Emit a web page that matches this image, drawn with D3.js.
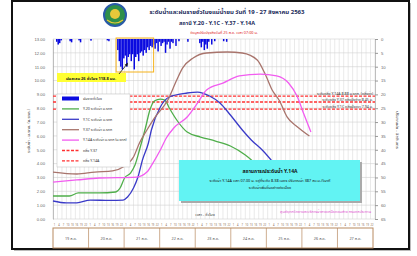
<!DOCTYPE html>
<html>
<head>
<meta charset="utf-8">
<script src="https://cdn.jsdelivr.net/npm/d3@7"></script>
<style>
  body { margin: 0; background: #fff; }
  svg { font-family: Tahoma, "Noto Sans Thai", "Noto Sans", sans-serif; }
</style>
</head>
<body>
<script>
// chart size
var width = 417;
var height = 256;

// data: [hour from 19 Aug 00:00, level m]
var y20 = [[0,1.66],[11,1.66],[17,1.88],[31,1.88],[42,1.95],[45,2.24],[48,2.96],[52,3.32],[55,3.9],[58,4.98],[62,6.57],[65,7.87],[68,8.52],[72,8.66],[75,8.59],[78,8.02],[83,7.15],[90,6.28],[99,5.92],[109,5.63],[119,5.27],[129,4.62],[139,3.68]];
var y1c = [[0,1.3],[9,1.16],[16,1.16],[25,1.37],[38,1.34],[47,1.37],[50,1.59],[54,2.24],[57,3.03],[60,4.26],[64,5.49],[66,6.43],[72,8.09],[78,8.81],[90,9.1],[97,9.17],[105,8.88],[112,8.38],[119,7.51],[127,6.43],[133,5.71],[141,4.91],[148,4.04]];
var y37 = [[0,3.39],[16,3.25],[28,3.39],[40,3.47],[47,3.76],[54,4.48],[58,5.49],[63,6.43],[68,7.29],[77,8.59],[83,10.04],[87,10.91],[94,11.63],[103,11.99],[117,12.06],[127,11.99],[137,11.48],[142,10.54],[147,9.32],[152,8.52],[157,7.37],[164,6.64],[172,5.99]];
var y14a = [[0,2.67],[16,2.82],[31,2.96],[56,3.03],[63,3.39],[67,4.04],[72,4.98],[76,5.85],[81,6.57],[90,7.37],[97,8.38],[103,9.32],[114,9.82],[125,10.33],[139,10.47],[150,10.33],[158,9.82],[164,8.81],[168,7.66],[173,6.28]];

// hourly rain: [hour, mm]
var rain = [[2,1],[3,2],[4,1.5],[5,0.5],[11,0.8],[12,1.2],[17,0.5],[18,1.2],[25,0.6],[36,0.5],[37,0.8],
  [43,4],[44,8],[45,10],[46,11],[47,7],[48,6],[49,10],[50,6.5],[51,5.5],[52,8],[53,5.5],[54,11],[55,6.5],[56,5.5],
  [57,8],[58,5],[59,4.5],[60,6],[61,4],[62,5],[63,3],[64,4],[65,2.5],[66,3],[67,2],
  [68,3.5],[69,1.5],[70,4.5],[71,1],[72,2.5],[73,1.5],[74,1],[75,5],[76,2],[77,1],[78,3.5],[79,1],[80,1.5],[82,2.5],[84,0.8],
  [90,1],[98,1.5],[99,3],[100,1],[101,4],[102,2],[103,3.5],[104,1],[106,2],[108,0.8],[114,0.8],[116,1]];

var bankLevels = [8.88, 8.45, 7.94];
var bankLabels = ["ระดับตลิ่ง Y.14A 8.88 ม.รทก. (ตลิ่งต่ำ)", "ระดับตลิ่ง Y.37 ตลิ่งฝั่งซ้าย 8.45 ม.", "ระดับตลิ่ง Y.1C ตลิ่งฝั่งขวา 7.94 ม."];
var dayLabels = ["19 ส.ค.","20 ส.ค.","21 ส.ค.","22 ส.ค.","23 ส.ค.","24 ส.ค.","25 ส.ค.","26 ส.ค.","27 ส.ค."];
var hourTicks = [1,4,7,10,13,16,19,22];
var legendNames = ["ฝนรายชั่วโมง","Y.20 ระดับน้ำ ม.รทก","Y.1C ระดับน้ำ ม.รทก","Y.37 ระดับน้ำ ม.รทก","Y.14A ระดับน้ำ ม.รทก (ม.รทก)","ตลิ่ง Y.37","ตลิ่ง Y.14A"];

var svg = d3.select("body").append("svg")
    .attr("width", width)
    .attr("height", height);

// frame
svg.append("rect").attr("x", 14).attr("y", 3).attr("width", 397).attr("height", 248).attr("fill", "#bbb");
svg.append("rect").attr("x", 12).attr("y", 1).attr("width", 397).attr("height", 248)
  .attr("fill", "#fff").attr("stroke", "#111").attr("stroke-width", 2);

var x = d3.scaleLinear().domain([0, 216]).range([53, 375]);
var y = d3.scaleLinear().domain([0, 13]).range([219, 39]);
var yR = d3.scaleLinear().domain([0, 65]).range([39, 219]);

// grid
svg.append("g").selectAll("line").data(d3.range(0, 217, 3)).enter().append("line")
  .attr("x1", function(d) { return x(d); }).attr("x2", function(d) { return x(d); })
  .attr("y1", y(13)).attr("y2", y(0))
  .attr("stroke", "#dcdcdc").attr("stroke-width", 0.6);
svg.append("g").selectAll("line").data(d3.range(0, 14)).enter().append("line")
  .attr("x1", x(0)).attr("x2", x(216))
  .attr("y1", function(d) { return y(d); }).attr("y2", function(d) { return y(d); })
  .attr("stroke", "#d0d0d0").attr("stroke-width", 0.6);

// axes
var left = svg.append("g").attr("transform", "translate(" + x(0) + ",0)")
  .call(d3.axisLeft(y).ticks(13).tickFormat(d3.format(".2f")).tickSize(0).tickPadding(8));
var right = svg.append("g").attr("transform", "translate(" + x(216) + ",0)")
  .call(d3.axisRight(yR).ticks(13).tickSize(3).tickPadding(3));
[left, right].forEach(function(g) {
  g.select(".domain").attr("stroke", "#999").attr("stroke-width", 0.6);
  g.selectAll(".tick line").attr("stroke", "#999");
  g.selectAll("text").attr("fill", "#666").attr("font-size", 4.2);
});

// rain bars
var bw = x(1) - x(0);
svg.append("g").selectAll("rect").data(rain).enter().append("rect")
  .attr("x", function(d) { return x(d[0]); })
  .attr("y", yR(0))
  .attr("width", bw)
  .attr("height", function(d) { return yR(d[1]) - yR(0); })
  .attr("fill", "#0a0ae0");

// heavy rain box
svg.append("rect").attr("x", x(43) - 1).attr("y", 38).attr("width", x(67.5) - x(43) + 1).attr("height", 34)
  .attr("fill", "none").attr("stroke", "#f5b21a").attr("stroke-width", 1);

// bank lines
svg.append("g").selectAll("line").data(bankLevels).enter().append("line")
  .attr("x1", x(0)).attr("x2", x(216))
  .attr("y1", function(d) { return y(d); }).attr("y2", function(d) { return y(d); })
  .attr("stroke", "#ff3030").attr("stroke-width", 1.3).attr("stroke-dasharray", "3,1.5");
svg.append("g").selectAll("text").data(bankLevels).enter().append("text")
  .attr("x", 373).attr("y", function(d) { return y(d) - 1; })
  .attr("text-anchor", "end").attr("font-size", 3.6).attr("fill", "#333")
  .text(function(d, i) { return bankLabels[i]; });

// level lines
var line = d3.line().x(function(d) { return x(d[0]); }).y(function(d) { return y(d[1]); })
  .curve(d3.curveMonotoneX);
var series = [[y20, "#4fae4a"], [y1c, "#3a3ac8"], [y37, "#a8746c"], [y14a, "#f25cf0"]];
series.forEach(function(s) {
  svg.append("path").datum(s[0]).attr("d", line)
    .attr("fill", "none").attr("stroke", s[1]).attr("stroke-width", 1.3);
});

// callout
svg.append("rect").attr("x", 57).attr("y", 73).attr("width", 69).attr("height", 9).attr("fill", "#ffff33");
svg.append("text").attr("x", 91).attr("y", 79.5).attr("text-anchor", "middle")
  .attr("font-size", 4).attr("font-weight", "bold").attr("fill", "#222")
  .text("ฝนสะสม 26 ชั่วโมง 118.8 มม.");
svg.append("line").attr("x1", 119).attr("y1", 74).attr("x2", 127).attr("y2", 64)
  .attr("stroke", "#111").attr("stroke-width", 0.8);
svg.append("path").attr("d", "M128,62.5 L124.8,64.8 L127.2,66.6 Z").attr("fill", "#111");

// legend
var lg = svg.append("g");
lg.append("rect").attr("x", 57).attr("y", 94).attr("width", 73).attr("height", 73)
  .attr("fill", "#fff").attr("stroke", "#bbb").attr("stroke-width", 0.5);
legendNames.forEach(function(n, i) {
  var ly = 98.5 + i * 10.4;
  var item = lg.append("line").attr("x1", 62).attr("x2", 79).attr("y1", ly).attr("y2", ly);
  if (i == 0) item.attr("stroke", "#0a0ae0").attr("stroke-width", 4);
  else if (i < 5) item.attr("stroke", series[i - 1][1]).attr("stroke-width", 1.3);
  else item.attr("stroke", "#ff3030").attr("stroke-width", 1.3).attr("stroke-dasharray", "3,1.5");
  lg.append("text").attr("x", 83).attr("y", ly + 1.3).attr("font-size", 3.6).attr("fill", "#333").text(n);
});

// situation box
svg.append("rect").attr("x", 181).attr("y", 162).attr("width", 181).attr("height", 41).attr("fill", "#aaa");
svg.append("rect").attr("x", 179).attr("y", 160).attr("width", 181).attr("height", 41).attr("fill", "#62f3f3");
svg.append("text").attr("x", 270).attr("y", 173).attr("text-anchor", "middle")
  .attr("font-size", 5).attr("font-weight", "bold").attr("fill", "#111").text("สถานการณ์ระดับน้ำ Y.14A");
svg.append("text").attr("x", 270).attr("y", 181.5).attr("text-anchor", "middle")
  .attr("font-size", 3.8).attr("fill", "#111")
  .text("ระดับน้ำ Y.14A เวลา 07.00 น. อยู่ที่ระดับ 8.38 เมตร ปริมาณน้ำ 387 ลบ.ม./วินาที");
svg.append("text").attr("x", 270).attr("y", 188.5).attr("text-anchor", "middle")
  .attr("font-size", 3.8).attr("fill", "#111").text("ระดับน้ำเพิ่มขึ้นอย่างต่อเนื่อง");

// bottom texts
svg.append("text").attr("x", 205).attr("y", 216).attr("text-anchor", "middle")
  .attr("font-size", 3.8).attr("fill", "#333").text("เวลา - ชั่วโมง");
svg.append("text").attr("x", 371).attr("y", 213).attr("text-anchor", "end")
  .attr("font-size", 3.8).attr("fill", "#e04fd0").text("ศูนย์อุทกวิทยาและบริหารน้ำภาคเหนือตอนล่าง กรมชลประทาน");

// hour ticks
var hours = [];
d3.range(9).forEach(function(dd) { hourTicks.forEach(function(h) { hours.push(dd * 24 + h); }); });
svg.append("g").selectAll("text").data(hours).enter().append("text")
  .attr("x", function(d) { return x(d); }).attr("y", 226)
  .attr("text-anchor", "middle").attr("font-size", 2.6).attr("fill", "#8a6a50")
  .text(function(d) { return d % 24; });

// day boxes
svg.append("rect").attr("x", x(0)).attr("y", 228).attr("width", x(216) - x(0) - 2).attr("height", 20)
  .attr("fill", "#fff").attr("stroke", "#b88a60").attr("stroke-width", 1);
svg.append("g").selectAll("line").data(d3.range(1, 9)).enter().append("line")
  .attr("x1", function(d) { return x(d * 24) - d * 0.22; }).attr("x2", function(d) { return x(d * 24) - d * 0.22; })
  .attr("y1", 228).attr("y2", 248).attr("stroke", "#b88a60").attr("stroke-width", 0.7);
svg.append("g").selectAll("text").data(dayLabels).enter().append("text")
  .attr("x", function(d, i) { return x(i * 24 + 12) - i * 0.22; }).attr("y", 239.5)
  .attr("text-anchor", "middle").attr("font-size", 3.8).attr("fill", "#555")
  .text(function(d) { return d; });

// titles
svg.append("text").attr("x", 227).attr("y", 14).attr("text-anchor", "middle")
  .attr("font-size", 6).attr("font-weight", "bold").attr("fill", "#1a2a5a")
  .text("ระดับน้ำและฝนรายชั่วโมงแม่น้ำยม วันที่ 19 - 27 สิงหาคม 2563");
svg.append("text").attr("x", 217).attr("y", 25).attr("text-anchor", "middle")
  .attr("font-size", 5.5).attr("font-weight", "bold").attr("fill", "#1a2a5a")
  .text("สถานี Y.20 - Y.1C - Y.37 - Y.14A");
svg.append("text").attr("x", 224).attr("y", 34).attr("text-anchor", "middle")
  .attr("font-size", 3.8).attr("fill", "#e02020")
  .text("ข้อมูลปรับปรุงถึงวันที่ 25 ส.ค. เวลา 07:00 น.");

// logo
svg.append("circle").attr("cx", 115).attr("cy", 15).attr("r", 11).attr("fill", "#2f8f4a").attr("stroke", "#2a5aa8").attr("stroke-width", 2);
svg.append("circle").attr("cx", 115).attr("cy", 14).attr("r", 5).attr("fill", "#e8c83a");
svg.append("path").attr("d", "M107,20 Q115,26 123,20").attr("fill", "none").attr("stroke", "#e8c83a").attr("stroke-width", 1.2);

// axis titles
svg.append("text").attr("transform", "translate(30,131) rotate(-90)").attr("text-anchor", "middle")
  .attr("font-size", 4.2).attr("fill", "#333").text("ระดับน้ำ - ม.รทก. (ม.รทก.)");
svg.append("text").attr("transform", "translate(396,130) rotate(90)").attr("text-anchor", "middle")
  .attr("font-size", 4.2).attr("fill", "#333").text("ปริมาณฝน - มิลลิเมตร");
</script>
</body>
</html>
